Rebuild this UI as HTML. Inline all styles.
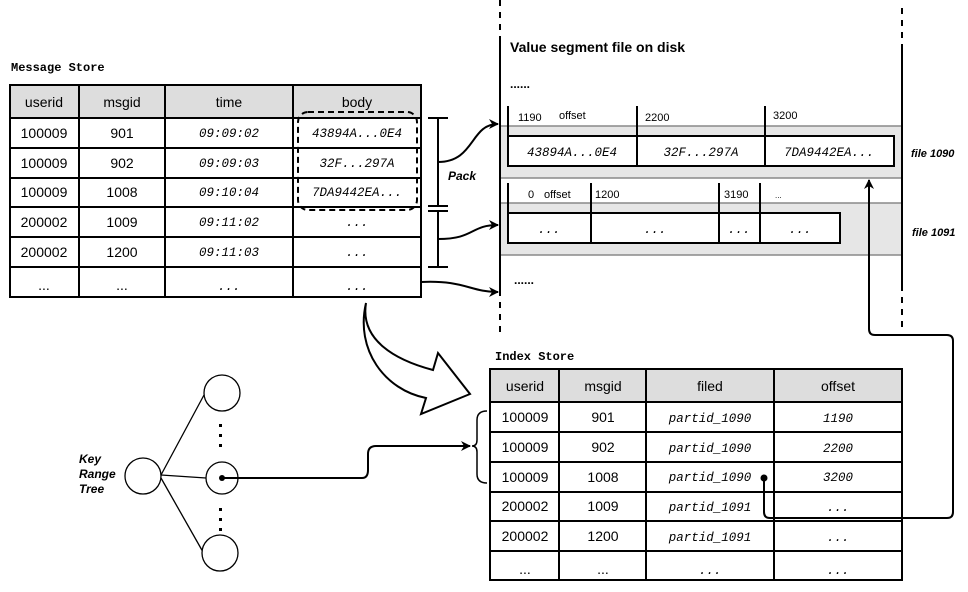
<!DOCTYPE html>
<html><head><meta charset="utf-8"><style>
html,body{margin:0;padding:0;background:#fff;}
svg{display:block}
.mn{font-family:"Liberation Mono",monospace;font-size:12.5px;font-style:italic;}
.sn{font-family:"Liberation Sans",sans-serif;font-size:14px;}
</style></head><body>
<svg width="968" height="592" viewBox="0 0 968 592" xmlns="http://www.w3.org/2000/svg">
<defs><marker id="ah" markerWidth="10" markerHeight="10" refX="9" refY="5" orient="auto" markerUnits="userSpaceOnUse"><path d="M0,0 L10,5 L0,10 L3,5 Z" fill="#000"/></marker></defs>
<!-- Message Store -->
<text x="11" y="71" font-family="Liberation Mono,monospace" font-weight="bold" font-size="12">Message Store</text>
<rect x="10" y="85" width="411" height="33" fill="#ddd"/>
<g stroke="#000" stroke-width="2" fill="none">
<rect x="10" y="85" width="411" height="212"/>
<line x1="10" y1="118" x2="421" y2="118"/><line x1="10" y1="148" x2="421" y2="148"/><line x1="10" y1="178" x2="421" y2="178"/><line x1="10" y1="207" x2="421" y2="207"/><line x1="10" y1="237" x2="421" y2="237"/><line x1="10" y1="267" x2="421" y2="267"/>
<line x1="79" y1="85" x2="79" y2="297"/><line x1="165" y1="85" x2="165" y2="297"/><line x1="293" y1="85" x2="293" y2="297"/>
</g>
<g class="sn" text-anchor="middle">
<text x="44" y="107">userid</text><text x="122" y="107">msgid</text><text x="229" y="107">time</text><text x="357" y="107">body</text>
<text x="44" y="138">100009</text><text x="122" y="138">901</text>
<text x="44" y="168">100009</text><text x="122" y="168">902</text>
<text x="44" y="197">100009</text><text x="122" y="197">1008</text>
<text x="44" y="227">200002</text><text x="122" y="227">1009</text>
<text x="44" y="257">200002</text><text x="122" y="257">1200</text>
<text x="44" y="290">...</text><text x="122" y="290">...</text>
</g>
<g class="mn" text-anchor="middle">
<text x="229" y="137">09:09:02</text><text x="229" y="167">09:09:03</text><text x="229" y="196">09:10:04</text><text x="229" y="226">09:11:02</text><text x="229" y="256">09:11:03</text><text x="229" y="290">...</text>
<text x="357" y="137">43894A...0E4</text><text x="357" y="167">32F...297A</text><text x="357" y="196">7DA9442EA...</text><text x="357" y="226">...</text><text x="357" y="256">...</text><text x="357" y="290">...</text>
</g>
<rect x="298" y="112" width="119" height="98" rx="10" fill="none" stroke="#000" stroke-width="2" stroke-dasharray="6,4"/>
<!-- Pack bracket -->
<g stroke="#000" stroke-width="2" fill="none">
<line x1="438" y1="118" x2="438" y2="206"/><line x1="428" y1="118" x2="448" y2="118"/><line x1="428" y1="206" x2="448" y2="206"/>
<line x1="428" y1="211" x2="448" y2="211"/><line x1="438" y1="211" x2="438" y2="267"/><line x1="428" y1="267" x2="448" y2="267"/>
<path d="M438,162 C475,162 470,124 498,124" marker-end="url(#ah)"/>
<path d="M438,239 C475,239 470,225 498,225" marker-end="url(#ah)"/>
<path d="M421,282 C465,280 470,292 498,292" marker-end="url(#ah)"/>
</g>
<text x="448" y="180" font-family="Liberation Sans,sans-serif" font-size="12" font-weight="bold" font-style="italic">Pack</text>
<!-- Value segment -->
<rect x="500" y="126" width="402" height="52" fill="#e6e6e6"/>
<rect x="500" y="203" width="402" height="52" fill="#e6e6e6"/>
<g stroke="#888" stroke-width="1.5"><line x1="500" y1="126" x2="902" y2="126"/><line x1="500" y1="178" x2="902" y2="178"/><line x1="500" y1="203" x2="902" y2="203"/><line x1="500" y1="255" x2="902" y2="255"/></g>
<g stroke="#000" stroke-width="2" fill="none">
<line x1="500" y1="0" x2="500" y2="40" stroke-dasharray="6,6"/><line x1="500" y1="40" x2="500" y2="290"/><line x1="500" y1="290" x2="500" y2="332" stroke-dasharray="6,6"/>
<line x1="902" y1="8" x2="902" y2="50" stroke-dasharray="6,6"/><line x1="902" y1="50" x2="902" y2="285"/><line x1="902" y1="285" x2="902" y2="330" stroke-dasharray="6,6"/>
<rect x="508" y="136" width="386" height="30" fill="#fff"/>
<line x1="637" y1="106" x2="637" y2="166"/><line x1="765" y1="106" x2="765" y2="166"/><line x1="508" y1="106" x2="508" y2="136"/>
<rect x="508" y="213" width="332" height="30" fill="#fff"/>
<line x1="508" y1="183" x2="508" y2="213"/><line x1="591" y1="183" x2="591" y2="243"/><line x1="719" y1="183" x2="719" y2="243"/><line x1="760" y1="183" x2="760" y2="243"/>
</g>
<text x="510" y="52" font-family="Liberation Sans,sans-serif" font-size="14" font-weight="bold">Value segment file on disk</text>
<text x="510" y="88" font-size="12" font-family="Liberation Sans,sans-serif" font-weight="bold">......</text>
<text x="514" y="284" font-size="12" font-family="Liberation Sans,sans-serif" font-weight="bold">......</text>
<g font-family="Liberation Sans,sans-serif" font-size="11">
<text x="518" y="121">1190</text><text x="559" y="119">offset</text><text x="645" y="121">2200</text><text x="773" y="119">3200</text>
<text x="528" y="198">0</text><text x="544" y="198">offset</text><text x="595" y="198">1200</text><text x="724" y="198">3190</text><text x="775" y="198" font-size="8">...</text>
</g>
<g class="mn" text-anchor="middle"><text x="572" y="156">43894A...0E4</text><text x="701" y="156">32F...297A</text><text x="829" y="156">7DA9442EA...</text>
<text x="549" y="233">...</text><text x="655" y="233">...</text><text x="739" y="233">...</text><text x="800" y="233">...</text></g>
<g font-family="Liberation Sans,sans-serif" font-size="11" font-weight="bold" font-style="italic"><text x="911" y="157">file 1090</text><text x="912" y="236">file 1091</text></g>
<!-- connector to file 1090 -->
<path d="M764,478 L764,512 Q764,518 770,518 L947,518 Q953,518 953,512 L953,341 Q953,335 947,335 L875,335 Q869,335 869,329 L869,180" fill="none" stroke="#000" stroke-width="2" marker-end="url(#ah)"/>
<circle cx="764" cy="478" r="3.5" fill="#000"/>
<!-- Index store -->
<text x="495" y="360" font-family="Liberation Mono,monospace" font-weight="bold" font-size="12">Index Store</text>
<rect x="490" y="369" width="412" height="33" fill="#ddd"/>
<g stroke="#000" stroke-width="2" fill="none">
<rect x="490" y="369" width="412" height="211"/>
<line x1="490" y1="402" x2="902" y2="402"/><line x1="490" y1="432" x2="902" y2="432"/><line x1="490" y1="462" x2="902" y2="462"/><line x1="490" y1="492" x2="902" y2="492"/><line x1="490" y1="521" x2="902" y2="521"/><line x1="490" y1="551" x2="902" y2="551"/>
<line x1="559" y1="369" x2="559" y2="580"/><line x1="646" y1="369" x2="646" y2="580"/><line x1="774" y1="369" x2="774" y2="580"/>
</g>
<g class="sn" text-anchor="middle">
<text x="525" y="391">userid</text><text x="603" y="391">msgid</text><text x="710" y="391">filed</text><text x="838" y="391">offset</text>
<text x="525" y="422">100009</text><text x="603" y="422">901</text>
<text x="525" y="452">100009</text><text x="603" y="452">902</text>
<text x="525" y="482">100009</text><text x="603" y="482">1008</text>
<text x="525" y="511">200002</text><text x="603" y="511">1009</text>
<text x="525" y="541">200002</text><text x="603" y="541">1200</text>
<text x="525" y="574">...</text><text x="603" y="574">...</text>
</g>
<g class="mn" text-anchor="middle">
<text x="710" y="422">partid_1090</text><text x="710" y="452">partid_1090</text><text x="710" y="481">partid_1090</text><text x="710" y="511">partid_1091</text><text x="710" y="541">partid_1091</text><text x="710" y="574">...</text>
<text x="838" y="422">1190</text><text x="838" y="452">2200</text><text x="838" y="481">3200</text><text x="838" y="511">...</text><text x="838" y="541">...</text><text x="838" y="574">...</text>
</g>
<!-- big hollow arrow -->
<path d="M366,303 C360,340 395,360 433,370 L438,353 L470,394 L421,414 L426,398 C385,390 355,350 366,303 Z" fill="#fff" stroke="#000" stroke-width="2"/>
<!-- tree -->
<g stroke="#000" stroke-width="1.3" fill="#fff">
<line x1="161" y1="475" x2="204" y2="395"/><line x1="161" y1="475" x2="206" y2="478"/><line x1="161" y1="478" x2="203" y2="552"/>
<circle cx="143" cy="476" r="18"/><circle cx="222" cy="393" r="18"/><circle cx="222" cy="478" r="16"/><circle cx="220" cy="553" r="18"/>
</g>
<g fill="#000"><rect x="219" y="424" width="3" height="3"/><rect x="219" y="434" width="3" height="3"/><rect x="219" y="444" width="3" height="3"/>
<rect x="219" y="508" width="3" height="3"/><rect x="219" y="518" width="3" height="3"/><rect x="219" y="528" width="3" height="3"/></g>
<circle cx="222" cy="478" r="3" fill="#000"/>
<g font-family="Liberation Sans,sans-serif" font-size="12" font-weight="bold" font-style="italic"><text x="79" y="463">Key</text><text x="79" y="478">Range</text><text x="79" y="493">Tree</text></g>
<path d="M222,478 L362,478 Q368,478 368,470 L368,454 Q368,446 376,446 L470,446" fill="none" stroke="#000" stroke-width="2" marker-end="url(#ah)"/>
<path d="M487,411 Q477,411 477,420 L477,440 Q477,446 472,446 Q477,446 477,452 L477,474 Q477,483 487,483" fill="none" stroke="#000" stroke-width="1.5"/>
</svg>
</body></html>
